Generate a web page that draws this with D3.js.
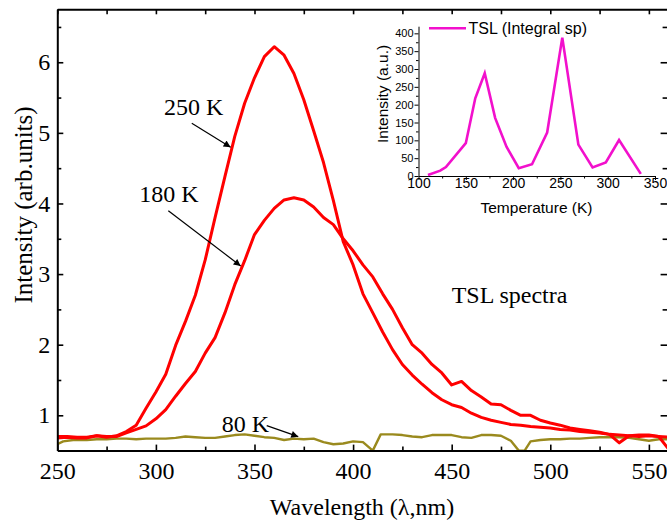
<!DOCTYPE html>
<html>
<head>
<meta charset="utf-8">
<script src="https://cdn.jsdelivr.net/npm/d3@7"></script>
<style>
  html, body { margin: 0; padding: 0; background: #fff; }
  svg { display: block; }
</style>
</head>
<body>
<svg id="chart" width="667" height="520"></svg>
<script>
// ---- Main spectra: wavelength (nm) vs intensity (arb. units) ----
const wavelengths = [250,255,260,265,270,275,280,285,290,295,300,305,310,315,320,325,330,335,340,345,
  350,355,360,365,370,375,380,385,390,395,400,405,410,415,420,425,430,435,440,445,
  450,455,460,465,470,475,480,485,490,495,500,505,510,515,520,525,530,535,540,545,550,555,560];

const spectrum250K = [0.68,0.69,0.68,0.68,0.71,0.69,0.71,0.77,0.86,1.10,1.33,1.58,1.99,2.33,2.70,3.20,3.80,4.38,4.95,5.42,
  5.78,6.08,6.22,6.10,5.84,5.47,5.03,4.58,4.04,3.46,3.13,2.72,2.45,2.18,1.93,1.72,1.57,1.44,1.32,1.22,
  1.15,1.11,1.03,0.97,0.93,0.90,0.87,0.86,0.84,0.83,0.82,0.80,0.79,0.77,0.76,0.75,0.73,0.61,0.71,0.70,0.71,0.70,0.69];

const spectrum180K = [0.70,0.70,0.69,0.69,0.71,0.70,0.70,0.75,0.80,0.85,0.95,1.08,1.27,1.45,1.62,1.88,2.10,2.45,2.85,3.19,
  3.56,3.76,3.93,4.05,4.08,4.05,3.95,3.80,3.70,3.50,3.33,3.13,2.96,2.72,2.50,2.24,2.00,1.88,1.72,1.60,
  1.43,1.48,1.35,1.26,1.16,1.15,1.07,1.00,1.00,0.93,0.89,0.86,0.82,0.80,0.78,0.76,0.73,0.72,0.71,0.72,0.72,0.70,0.52];

const wavelengths80K = [250,253,258,265,270,275,280,285,290,295,300,305,310,315,320,325,330,335,340,345,
  350,355,360,365,370,375,380,385,390,395,400,405,410,414,420,425,430,435,440,445,
  450,455,460,465,470,475,480,484,487,490,495,500,505,510,515,520,525,530,535,540,545,550,555,560];
const spectrum80K = [0.59,0.63,0.65,0.65,0.66,0.66,0.67,0.67,0.66,0.67,0.67,0.67,0.68,0.70,0.69,0.68,0.68,0.70,0.72,0.73,
  0.71,0.69,0.68,0.65,0.67,0.66,0.67,0.62,0.59,0.60,0.63,0.62,0.50,0.73,0.73,0.72,0.70,0.69,0.72,0.72,
  0.72,0.69,0.68,0.72,0.72,0.71,0.64,0.50,0.50,0.63,0.65,0.66,0.66,0.67,0.67,0.68,0.69,0.69,0.69,0.68,0.66,0.64,0.66,0.66];

const xTicks = [250,300,350,400,450,500,550];
const xMinorTicks = [275,325,375,425,475,525];
const yTicks = [1,2,3,4,5,6];
const yMinorTicks = [1.5,2.5,3.5,4.5,5.5,6.5];

// ---- Inset: integral TSL intensity vs temperature ----
const temperatures = [110,123,129,150,160,170,181,193,206,220,236,252,269,284,298,312,335];
const tslIntegral  = [3,15,25,92,218,288,163,82,22,33,122,388,88,24,38,101,6];
const insetXTicks = [100,150,200,250,300,350];
const insetXMinor = [125,175,225,275,325];
const insetYTicks = [0,50,100,150,200,250,300,350,400];
const insetYMinor = [25,75,125,175,225,275,325,375];

const RED = "#ff0000", OLIVE = "#9a8a1e", MAGENTA = "#f210cc";
const SERIF = "'Liberation Serif','Times New Roman',serif";
const SANS = "'Liberation Sans',Arial,sans-serif";

const svg = d3.select("#chart");

const x = d3.scaleLinear().domain([250, 560]).range([57.3, 668.6]);
const y = d3.scaleLinear().domain([0.5, 6.75]).range([450.6, 9.3]);

// spectra
const line = d3.line().x(d => x(d[0])).y(d => y(d[1]));
svg.append("clipPath").attr("id", "plotClip").append("rect")
  .attr("x", x(250)).attr("y", y(6.75)).attr("width", x(560) - x(250)).attr("height", y(0.5) - y(6.75));
const plot = svg.append("g").attr("clip-path", "url(#plotClip)");

plot.append("path").datum(d3.zip(wavelengths80K, spectrum80K))
  .attr("d", line).attr("fill", "none").attr("stroke", OLIVE).attr("stroke-width", 2.4)
  .attr("stroke-linejoin", "round");
plot.append("path").datum(d3.zip(wavelengths, spectrum180K))
  .attr("d", line).attr("fill", "none").attr("stroke", RED).attr("stroke-width", 3)
  .attr("stroke-linejoin", "round");
plot.append("path").datum(d3.zip(wavelengths, spectrum250K))
  .attr("d", line).attr("fill", "none").attr("stroke", RED).attr("stroke-width", 3)
  .attr("stroke-linejoin", "round");

// axes: ticks point inward on all four sides
function styleAxis(g) {
  g.selectAll(".domain").attr("stroke", "#000").attr("stroke-width", 2);
  g.selectAll(".tick line").attr("stroke", "#000").attr("stroke-width", 1.6);
  g.selectAll("text").attr("font-family", SERIF).attr("font-size", 24).attr("fill", "#000");
}
const axisB = svg.append("g").attr("transform", `translate(0,${y(0.5)})`)
  .call(d3.axisBottom(x).tickValues(xTicks).tickSizeInner(-6).tickSizeOuter(0).tickPadding(11));
styleAxis(axisB);
svg.append("g").attr("transform", `translate(0,${y(0.5)})`)
  .call(d3.axisBottom(x).tickValues(xMinorTicks).tickSizeInner(-4).tickSizeOuter(0).tickFormat(""))
  .call(g => { g.select(".domain").remove(); styleAxis(g); });

const axisL = svg.append("g").attr("transform", `translate(${x(250)},0)`)
  .call(d3.axisLeft(y).tickValues(yTicks).tickSizeInner(-6).tickSizeOuter(0).tickPadding(7).tickFormat(d3.format("d")));
styleAxis(axisL);
svg.append("g").attr("transform", `translate(${x(250)},0)`)
  .call(d3.axisLeft(y).tickValues(yMinorTicks).tickSizeInner(-4).tickSizeOuter(0).tickFormat(""))
  .call(g => { g.select(".domain").remove(); styleAxis(g); });

const axisT = svg.append("g").attr("transform", `translate(0,${y(6.75)})`)
  .call(d3.axisTop(x).tickValues(xTicks.concat(xMinorTicks)).tickSizeInner(-5).tickSizeOuter(0).tickFormat(""));
styleAxis(axisT);
const axisR = svg.append("g").attr("transform", `translate(${x(560)},0)`)
  .call(d3.axisRight(y).tickValues(yTicks).tickSizeInner(-8).tickSizeOuter(0).tickFormat(""));
styleAxis(axisR);
svg.append("g").attr("transform", `translate(${x(560)},0)`)
  .call(d3.axisRight(y).tickValues(yMinorTicks).tickSizeInner(-6).tickSizeOuter(0).tickFormat(""))
  .call(g => { g.select(".domain").remove(); styleAxis(g); });

// axis titles
svg.append("text").attr("x", 362).attr("y", 515).attr("text-anchor", "middle")
  .attr("font-family", SERIF).attr("font-size", 24).text("Wavelength (λ,nm)");
svg.append("text").attr("transform", "translate(32,205) rotate(-90)").attr("text-anchor", "middle")
  .attr("font-family", SERIF).attr("font-size", 25).text("Intensity (arb.units)");

// annotations (positions in data units)
const defs = svg.append("defs");
defs.append("marker").attr("id", "arrowHead").attr("viewBox", "0 0 10 10")
  .attr("refX", 10).attr("refY", 5).attr("markerWidth", 9).attr("markerHeight", 7)
  .attr("markerUnits", "userSpaceOnUse").attr("orient", "auto")
  .append("path").attr("d", "M0,0 L10,5 L0,10 Z").attr("fill", "#000");

const labels = [
  { text: "250 K", w: 304.1, v: 5.253 },
  { text: "180 K", w: 291.6, v: 4.026 },
  { text: "80 K",  w: 333.4, v: 0.768 },
  { text: "TSL spectra", w: 450.0, v: 2.595 }
];
const arrows = [
  { w1: 318.2, v1: 5.136, w2: 337.9, v2: 4.796 },
  { w1: 306.3, v1: 3.898, w2: 343.0, v2: 3.115 },
  { w1: 356.2, v1: 0.853, w2: 372.2, v2: 0.697 }
];
svg.selectAll("text.note").data(labels).join("text").attr("class", "note")
  .attr("x", d => x(d.w)).attr("y", d => y(d.v))
  .attr("font-family", SERIF).attr("font-size", 24).text(d => d.text);
svg.selectAll("line.arrow").data(arrows).join("line").attr("class", "arrow")
  .attr("x1", d => x(d.w1)).attr("y1", d => y(d.v1))
  .attr("x2", d => x(d.w2)).attr("y2", d => y(d.v2))
  .attr("stroke", "#000").attr("stroke-width", 1.2).attr("marker-end", "url(#arrowHead)");

// ---- inset ----
const ix = d3.scaleLinear().domain([100, 350]).range([418.5, 655]);
const iy = d3.scaleLinear().domain([0, 420]).range([176, 26.2]);
const inset = svg.append("g");

function styleInset(g, size) {
  g.selectAll(".domain").attr("stroke", "#000").attr("stroke-width", 1);
  g.selectAll(".tick line").attr("stroke", "#000").attr("stroke-width", 1);
  g.selectAll("text").attr("font-family", SANS).attr("font-size", size).attr("fill", "#000");
}
const ixAxis = inset.append("g").attr("transform", `translate(0,${iy(0)})`)
  .call(d3.axisBottom(ix).tickValues(insetXTicks).tickSizeInner(4).tickSizeOuter(0).tickPadding(-1.5));
styleInset(ixAxis, 14);
inset.append("g").attr("transform", `translate(0,${iy(0)})`)
  .call(d3.axisBottom(ix).tickValues(insetXMinor).tickSizeInner(2.5).tickSizeOuter(0).tickFormat(""))
  .call(g => { g.select(".domain").remove(); styleInset(g, 14); });
const iyAxis = inset.append("g").attr("transform", `translate(${ix(100)},0)`)
  .call(d3.axisLeft(iy).tickValues(insetYTicks).tickSizeInner(4).tickSizeOuter(0).tickPadding(1));
styleInset(iyAxis, 11);
inset.append("g").attr("transform", `translate(${ix(100)},0)`)
  .call(d3.axisLeft(iy).tickValues(insetYMinor).tickSizeInner(2.5).tickSizeOuter(0).tickFormat(""))
  .call(g => { g.select(".domain").remove(); styleInset(g, 11); });

const iline = d3.line().x(d => ix(d[0])).y(d => iy(d[1]));
inset.append("path").datum(d3.zip(temperatures, tslIntegral))
  .attr("d", iline).attr("fill", "none").attr("stroke", MAGENTA).attr("stroke-width", 2.6)
  .attr("stroke-linejoin", "miter");

inset.append("text").attr("x", 536.5).attr("y", 213).attr("text-anchor", "middle")
  .attr("font-family", SANS).attr("font-size", 15.5).text("Temperature (K)");
inset.append("text").attr("transform", "translate(388,94) rotate(-90)").attr("text-anchor", "middle")
  .attr("font-family", SANS).attr("font-size", 15.5).text("Intensity (a.u.)");

// legend
inset.append("line").attr("x1", 429).attr("x2", 466).attr("y1", 28.3).attr("y2", 28.3)
  .attr("stroke", MAGENTA).attr("stroke-width", 2.6);
inset.append("text").attr("x", 468.5).attr("y", 34).attr("font-family", SANS).attr("font-size", 16)
  .text("TSL (Integral sp)");
</script>
</body>
</html>
